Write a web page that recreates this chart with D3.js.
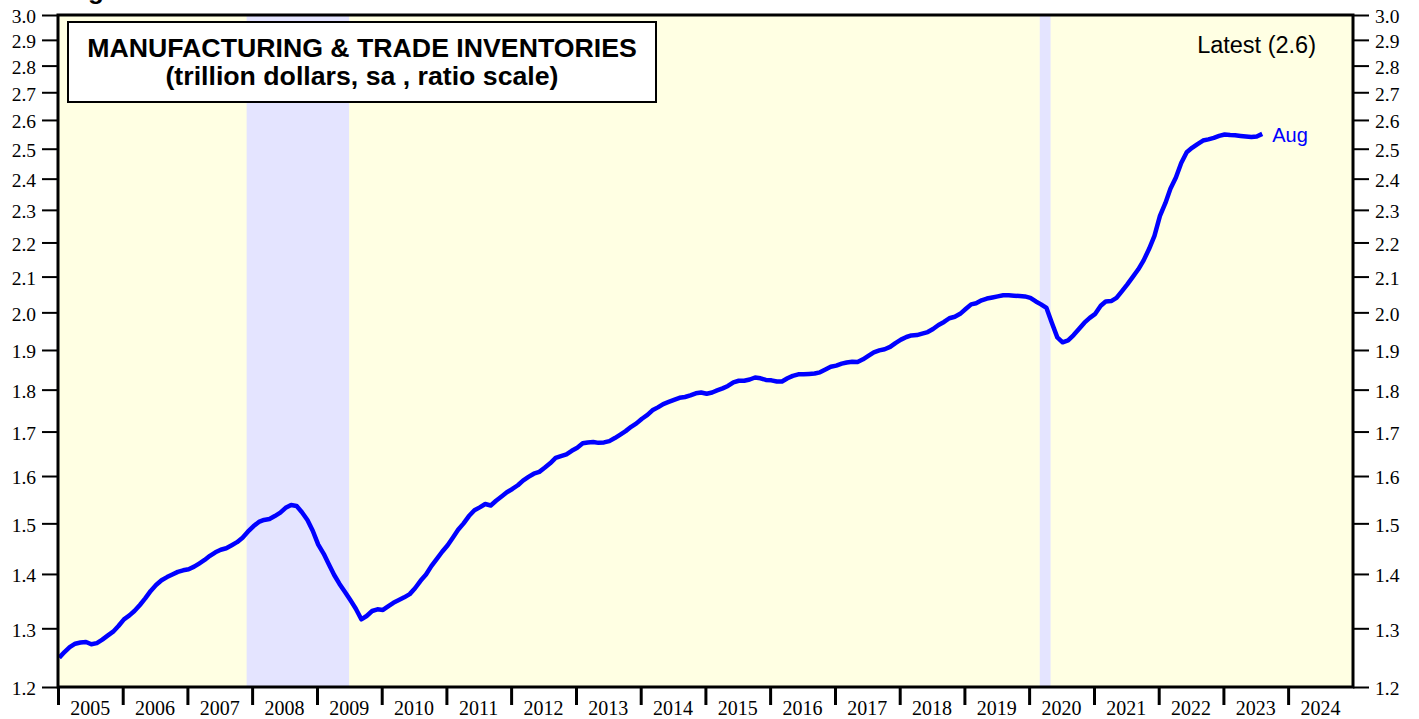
<!DOCTYPE html>
<html>
<head>
<meta charset="utf-8">
<script src="https://d3js.org/d3.v7.min.js"></script>
<style>
    body { margin: 0; background: #fff; }
</style>
</head>
<body>
<div id="chart"></div>
<script>
//------------------------------------------------------
// data (trillion dollars, monthly, Jan 2005 .. Aug 2023)
//------------------------------------------------------
var firstYear = 2005
var inventories = [
    1.249, 1.259, 1.267, 1.273, 1.275, 1.276, 1.272, 1.274, 1.280, 1.287, 1.294, 1.304, // 2005
    1.316, 1.323, 1.331, 1.342, 1.354, 1.368, 1.379, 1.388, 1.394, 1.399, 1.404, 1.407, // 2006
    1.409, 1.414, 1.420, 1.427, 1.435, 1.442, 1.447, 1.450, 1.456, 1.462, 1.471, 1.483, // 2007
    1.494, 1.503, 1.507, 1.509, 1.515, 1.522, 1.532, 1.538, 1.536, 1.523, 1.507, 1.485, // 2008
    1.457, 1.439, 1.419, 1.398, 1.381, 1.366, 1.351, 1.335, 1.316, 1.322, 1.331, 1.334, // 2009
    1.333, 1.340, 1.346, 1.351, 1.356, 1.362, 1.373, 1.387, 1.399, 1.415, 1.429, 1.443, // 2010
    1.456, 1.472, 1.487, 1.500, 1.515, 1.527, 1.533, 1.540, 1.537, 1.547, 1.556, 1.565, // 2011
    1.572, 1.580, 1.590, 1.598, 1.605, 1.609, 1.618, 1.628, 1.640, 1.644, 1.648, 1.656, // 2012
    1.663, 1.673, 1.675, 1.676, 1.674, 1.675, 1.678, 1.685, 1.693, 1.701, 1.711, 1.719, // 2013
    1.730, 1.739, 1.750, 1.757, 1.765, 1.770, 1.775, 1.780, 1.782, 1.786, 1.791, 1.793, // 2014
    1.790, 1.793, 1.798, 1.803, 1.809, 1.818, 1.822, 1.822, 1.825, 1.830, 1.828, 1.824, // 2015
    1.823, 1.820, 1.820, 1.828, 1.834, 1.838, 1.838, 1.839, 1.840, 1.843, 1.850, 1.857, // 2016
    1.860, 1.865, 1.868, 1.870, 1.869, 1.876, 1.885, 1.894, 1.899, 1.902, 1.908, 1.918, // 2017
    1.927, 1.934, 1.938, 1.939, 1.943, 1.947, 1.955, 1.966, 1.974, 1.984, 1.988, 1.996, // 2018
    2.009, 2.022, 2.025, 2.033, 2.038, 2.041, 2.044, 2.047, 2.047, 2.046, 2.045, 2.044, // 2019
    2.040, 2.030, 2.022, 2.012, 1.972, 1.933, 1.920, 1.925, 1.939, 1.955, 1.972, 1.985, // 2020
    1.996, 2.018, 2.030, 2.031, 2.040, 2.059, 2.078, 2.099, 2.121, 2.147, 2.181, 2.220, // 2021
    2.281, 2.322, 2.367, 2.404, 2.452, 2.488, 2.503, 2.516, 2.528, 2.532, 2.537, 2.544, // 2022
    2.549, 2.547, 2.546, 2.544, 2.542, 2.540, 2.542, 2.551                              // 2023
]
var yearLabels = d3.range(2005, 2025)
var yTicks = [1.2, 1.3, 1.4, 1.5, 1.6, 1.7, 1.8, 1.9, 2.0, 2.1, 2.2, 2.3, 2.4, 2.5, 2.6, 2.7, 2.8, 2.9, 3.0]
var recessions = [
    ["2007-12-01", "2009-07-01"],
    ["2020-03-01", "2020-05-01"]
]
var titleLines = ["MANUFACTURING & TRADE INVENTORIES", "(trillion dollars, sa , ratio scale)"]
var latestLabel = "Latest (2.6)"
var lastLabel = "Aug"

//------------------------------------------------------
// layout
//------------------------------------------------------
var width = 1419,
    height = 719
var plotLeft = 58, plotRight = 1353, plotTop = 15, plotBottom = 687
var lineColor = "#0000ff"
var sans = "'Liberation Sans', Arial, sans-serif"
var serif = "'Liberation Serif', 'Times New Roman', serif"

var svg = d3.select("#chart")
    .append("svg")
    .attr("width", width)
    .attr("height", height)

var x = d3.scaleTime()
    .domain([new Date(2005, 0, 1), new Date(2025, 0, 1)])
    .range([plotLeft, plotRight])

var y = d3.scaleLog()
    .domain([1.2, 3.0])
    .range([plotBottom, plotTop])

// points sit a little before mid-month, like the reference line
var points = inventories.map(function (v, i) {
    return { date: new Date(firstYear, i, 8), value: v }
})

function day(s) {
    var p = s.split("-")
    return new Date(+p[0], +p[1] - 1, +p[2])
}

//------------------------------------------------------
// background & recession bands
//------------------------------------------------------
svg.append("rect")
    .attr("x", plotLeft).attr("y", plotTop)
    .attr("width", plotRight - plotLeft).attr("height", plotBottom - plotTop)
    .style("fill", "#ffffe3")

svg.selectAll(".recession")
    .data(recessions)
    .enter()
    .append("rect")
    .attr("class", "recession")
    .attr("x", function (d) { return x(day(d[0])) })
    .attr("y", plotTop)
    .attr("width", function (d) { return x(day(d[1])) - x(day(d[0])) })
    .attr("height", plotBottom - plotTop)
    .style("fill", "#e4e4ff")

//------------------------------------------------------
// the line
//------------------------------------------------------
var line = d3.line()
    .x(function (d) { return x(d.date) })
    .y(function (d) { return y(d.value) })

svg.append("path")
    .datum(points)
    .attr("d", line)
    .style("fill", "none")
    .style("stroke", lineColor)
    .style("stroke-width", 4.5)
    .style("stroke-linejoin", "round")

//------------------------------------------------------
// frame
//------------------------------------------------------
svg.append("rect")
    .attr("x", plotLeft).attr("y", plotTop)
    .attr("width", plotRight - plotLeft).attr("height", plotBottom - plotTop)
    .style("fill", "none")
    .style("stroke", "#000")
    .style("stroke-width", 3)

//------------------------------------------------------
// y axes (left and right)
//------------------------------------------------------
var fmt = d3.format(".1f")

var yLeft = d3.axisLeft(y)
    .tickValues(yTicks)
    .tickFormat(fmt)
    .tickSize(16)
    .tickPadding(6)

var yRight = d3.axisRight(y)
    .tickValues(yTicks)
    .tickFormat(fmt)
    .tickSize(16)
    .tickPadding(6)

var gl = svg.append("g")
    .attr("transform", "translate(" + plotLeft + ",0)")
    .call(yLeft)
var gr = svg.append("g")
    .attr("transform", "translate(" + plotRight + ",0)")
    .call(yRight);

[gl, gr].forEach(function (g) {
    g.select(".domain").remove()
    g.selectAll(".tick line").style("stroke", "#000").style("stroke-width", 2)
    g.selectAll(".tick text")
        .attr("dy", "0.4em")
        .style("font-family", serif)
        .style("font-size", "19.5px")
        .style("fill", "#000")
})

//------------------------------------------------------
// x axis: year ticks at boundaries, labels in between
//------------------------------------------------------
var xAxis = d3.axisBottom(x)
    .tickValues(yearLabels.map(function (yr) { return new Date(yr, 0, 1) }))
    .tickFormat("")
    .tickSize(18)

var gx = svg.append("g")
    .attr("transform", "translate(0," + plotBottom + ")")
    .call(xAxis)
gx.select(".domain").remove()
gx.selectAll(".tick line").style("stroke", "#000").style("stroke-width", 3)

svg.selectAll(".yearLabel")
    .data(yearLabels)
    .enter()
    .append("text")
    .attr("class", "yearLabel")
    .attr("x", function (d) { return x(new Date(d, 6, 2)) })
    .attr("y", 715)
    .attr("text-anchor", "middle")
    .style("font-family", serif)
    .style("font-size", "20px")
    .text(function (d) { return d })

//------------------------------------------------------
// title box and labels
//------------------------------------------------------
svg.append("text")
    .attr("x", 65).attr("y", -1)
    .style("font-family", sans)
    .style("font-weight", "bold")
    .style("font-size", "26px")
    .text("Figure")

svg.append("rect")
    .attr("x", 68).attr("y", 22)
    .attr("width", 588).attr("height", 80)
    .style("fill", "#fff")
    .style("stroke", "#000")
    .style("stroke-width", 2)

svg.selectAll(".titleLine")
    .data(titleLines)
    .enter()
    .append("text")
    .attr("class", "titleLine")
    .attr("x", 362)
    .attr("y", function (d, i) { return 57 + i * 28 })
    .attr("text-anchor", "middle")
    .style("font-family", sans)
    .style("font-weight", "bold")
    .style("font-size", "26.7px")
    .text(function (d) { return d })

svg.append("text")
    .attr("x", 1316).attr("y", 53)
    .attr("text-anchor", "end")
    .style("font-family", sans)
    .style("font-size", "23.5px")
    .text(latestLabel)

var last = points[points.length - 1]
svg.append("text")
    .attr("x", x(last.date) + 10)
    .attr("y", y(last.value) + 8)
    .style("font-family", sans)
    .style("font-size", "20px")
    .style("fill", lineColor)
    .text(lastLabel)
</script>
</body>
</html>
